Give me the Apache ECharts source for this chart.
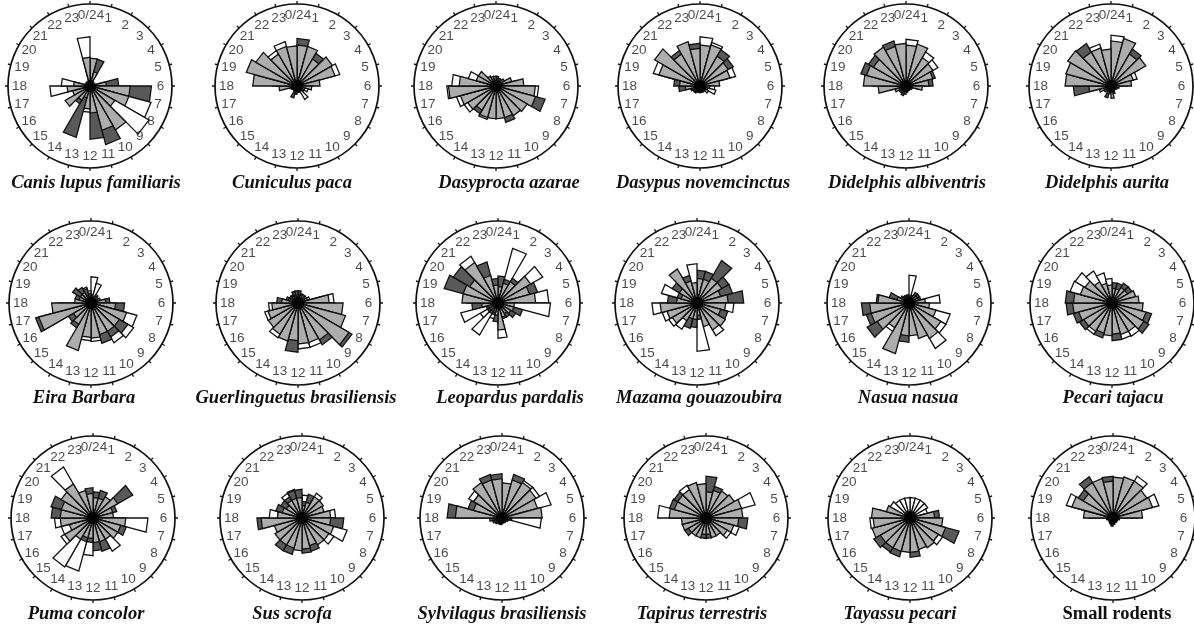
<!DOCTYPE html>
<html>
<head>
<meta charset="utf-8">
<script src="https://cdn.jsdelivr.net/npm/echarts@6/dist/echarts.min.js"></script>
<style>
  html, body { margin: 0; padding: 0; background: #ffffff; }
  #chart { width: 1194px; height: 627px; }
</style>
</head>
<body>
<div id="chart"></div>
<script>
// Hour labels around each clock face (bin i covers hour i to i+1)
const hourLabels = ['0/24','1','2','3','4','5','6','7','8','9','10','11','12',
                    '13','14','15','16','17','18','19','20','21','22','23'];

const speciesNames = [
  'Canis lupus familiaris', 'Cuniculus paca', 'Dasyprocta azarae',
  'Dasypus novemcinctus', 'Didelphis albiventris', 'Didelphis aurita',
  'Eira Barbara', 'Guerlinguetus brasiliensis', 'Leopardus pardalis',
  'Mazama gouazoubira', 'Nasua nasua', 'Pecari tajacu',
  'Puma concolor', 'Sus scrofa', 'Sylvilagus brasiliensis',
  'Tapirus terrestris', 'Tayassu pecari', 'Small rodents'
];

// Per-hour activity, each entry [dark, light, white], radius in % of the clock face
const canis = [[28,34,0],[34,18,0],[5,4,0],[4,3,0],[4,3,0],[35,20,0],[75,49,30],[30,49,77],
  [20,35,83],[30,62,0],[74,56,0],[65,33,0],[20,28,32],[65,15,0],[25,20,0],[20,35,0],
  [15,22,0],[20,28,49],[15,20,35],[4,3,0],[3,3,0],[3,4,0],[4,5,0],[20,35,60]];
const cuniculus = [[58,50,0],[40,50,35],[46,38,0],[42,50,0],[30,48,54],[10,28,20],[8,18,12],[5,10,14],
  [5,8,10],[4,6,19],[5,5,8],[6,6,8],[10,5,6],[15,6,5],[6,4,5],[5,4,5],
  [5,8,6],[8,22,10],[30,54,25],[40,64,30],[35,58,30],[30,45,50],[35,50,56],[30,49,40]];
const dasyprocta = [[10,12,0],[8,10,0],[8,10,0],[10,12,0],[15,20,0],[25,34,0],[40,48,52],[62,50,0],
  [40,44,0],[35,42,0],[46,40,0],[35,40,0],[35,40,0],[30,40,42],[39,34,0],[30,40,45],
  [30,45,50],[40,58,60],[30,45,54],[20,25,35],[15,25,0],[10,14,0],[8,12,0],[10,12,0]];
const dasypus = [[40,50,60],[40,52,55],[51,42,0],[47,40,0],[35,38,45],[15,24,0],[10,12,18],[8,10,20],
  [6,8,12],[5,6,8],[5,6,8],[6,6,8],[8,6,6],[8,6,6],[10,8,6],[10,8,5],
  [12,10,5],[26,18,0],[32,25,0],[40,52,59],[50,64,0],[50,45,0],[40,56,0],[52,46,0]];
const didelphisAlbiventris = [[40,50,57],[40,53,0],[30,40,48],[30,38,45],[37,34,0],[33,28,0],[15,20,0],[6,8,5],
  [5,6,5],[5,6,5],[5,6,5],[6,8,5],[8,10,5],[12,8,10],[8,10,6],[8,10,6],
  [10,14,6],[20,34,0],[40,52,0],[57,50,0],[53,46,0],[40,55,0],[57,50,0],[40,52,0]];
const didelphisAurita = [[40,55,62],[45,60,0],[52,45,0],[40,49,0],[25,28,33],[20,25,0],[8,10,6],[6,8,5],
  [5,6,5],[5,6,5],[6,8,10],[10,15,8],[6,8,5],[15,10,8],[6,8,5],[8,10,5],
  [10,15,5],[46,27,0],[40,56,0],[40,57,0],[45,61,0],[60,48,0],[40,48,53],[35,45,0]];
const eira = [[10,8,32],[8,6,25],[8,10,12],[8,10,6],[10,12,6],[23,18,0],[41,30,0],[40,45,58],
  [52,40,60],[48,40,56],[51,40,0],[40,43,47],[35,42,46],[30,60,0],[35,30,0],[32,25,0],
  [70,66,0],[40,48,0],[15,20,0],[20,15,0],[26,15,0],[22,15,0],[18,10,20],[12,8,15]];
const guerlinguetus = [[15,10,0],[12,10,0],[10,12,0],[8,10,12],[10,12,15],[30,38,44],[45,55,0],[50,60,0],
  [76,72,0],[59,52,0],[45,50,56],[45,50,56],[60,46,0],[40,48,0],[40,44,49],[35,42,0],
  [35,38,42],[30,32,36],[26,20,0],[15,12,10],[12,10,10],[12,10,8],[15,10,8],[15,8,8]];
const leopardus = [[33,20,0],[30,25,69],[35,30,0],[40,46,63],[50,40,0],[40,46,62],[15,20,64],[31,20,0],
  [25,18,0],[20,15,0],[20,18,0],[25,33,43],[23,15,0],[15,12,20],[15,12,45],[15,12,25],
  [15,12,47],[32,20,0],[38,44,0],[68,44,0],[63,40,0],[50,57,66],[52,35,0],[30,22,0]];
const mazama = [[40,30,0],[40,30,0],[60,35,0],[45,35,0],[45,30,0],[57,38,0],[30,35,45],[39,30,0],
  [30,40,0],[30,38,46],[25,30,0],[20,15,59],[30,20,0],[32,20,30],[20,25,37],[25,35,40],
  [25,38,44],[30,45,55],[36,25,0],[25,20,45],[35,25,0],[40,48,0],[35,28,0],[20,25,48]];
const nasua = [[8,6,34],[10,8,0],[15,12,0],[15,12,0],[15,12,0],[15,20,38],[20,25,0],[30,34,52],
  [40,45,52],[40,50,64],[35,45,0],[30,40,0],[48,40,0],[40,64,0],[30,35,40],[59,45,0],
  [54,48,0],[58,48,0],[40,38,0],[25,15,0],[12,10,0],[10,8,0],[10,8,0],[10,8,0]];
const pecariTajacu = [[25,18,0],[25,18,0],[28,22,0],[28,22,0],[22,30,0],[25,33,0],[30,38,0],[50,43,0],
  [52,45,0],[38,40,47],[38,40,46],[46,38,0],[35,40,0],[44,38,0],[38,40,44],[46,40,0],
  [49,42,0],[56,48,0],[57,47,0],[35,40,53],[30,38,52],[25,30,45],[20,25,38],[20,22,30]];
const puma = [[32,25,0],[35,25,0],[25,30,0],[56,35,0],[30,25,0],[20,25,0],[30,40,67],[42,35,0],
  [30,35,0],[30,30,47],[42,30,0],[40,30,0],[30,25,46],[30,25,67],[25,30,69],[30,40,45],
  [25,30,40],[30,40,47],[51,40,0],[53,40,0],[35,45,0],[30,48,72],[30,35,0],[37,30,0]];
const sus = [[20,15,28],[30,20,0],[25,30,35],[25,30,0],[20,28,0],[30,35,41],[51,35,0],[35,40,57],
  [30,38,45],[30,38,0],[42,35,0],[43,38,0],[35,40,0],[46,38,0],[46,38,0],[30,38,0],
  [30,35,0],[55,50,0],[30,30,40],[33,25,0],[30,22,0],[30,25,35],[35,25,36],[35,25,0]];
const sylvilagus = [[40,43,0],[55,48,0],[40,50,53],[40,48,53],[35,45,62],[40,49,0],[12,10,48],[6,5,8],
  [5,4,6],[5,4,5],[5,4,5],[6,5,5],[8,6,5],[8,6,5],[8,6,5],[10,8,5],
  [12,8,6],[15,10,6],[67,57,0],[43,36,0],[40,40,47],[45,50,0],[55,48,0],[54,48,0]];
const tapirus = [[51,32,0],[40,35,0],[30,38,0],[30,40,0],[35,45,62],[40,45,0],[51,40,0],[30,35,42],
  [25,30,35],[20,25,0],[20,25,0],[25,20,0],[25,20,0],[20,25,0],[20,25,0],[30,25,0],
  [25,30,0],[25,30,0],[40,45,59],[46,40,0],[45,40,0],[40,40,46],[40,45,0],[38,42,0]];
const tayassu = [[5,8,25],[5,8,25],[5,8,25],[5,8,25],[5,8,22],[36,30,0],[35,40,0],[62,45,0],
  [40,40,46],[38,42,0],[35,40,0],[48,42,0],[38,42,0],[49,42,0],[48,42,0],[51,42,0],
  [40,48,0],[40,45,49],[40,47,0],[25,30,0],[5,8,28],[5,8,25],[5,8,25],[5,8,25]];
const smallRodents = [[45,50,0],[40,52,0],[40,52,59],[40,48,0],[40,50,58],[30,36,0],[6,5,8],[5,4,6],
  [5,4,5],[5,4,5],[6,5,5],[8,6,6],[10,8,6],[8,6,6],[6,5,5],[5,4,5],
  [5,4,5],[6,8,5],[30,36,0],[40,52,59],[49,42,0],[58,50,0],[40,50,0],[51,45,0]];

const panelData = [canis, cuniculus, dasyprocta, dasypus, didelphisAlbiventris, didelphisAurita,
  eira, guerlinguetus, leopardus, mazama, nasua, pecariTajacu,
  puma, sus, sylvilagus, tapirus, tayassu, smallRodents];

// Layout of the 6 x 3 grid of clock faces and their captions
const colX = [
  [90, 297, 496, 700, 906, 1111],
  [91, 298, 498, 697, 909, 1112],
  [93, 302, 502, 706, 910, 1113]
];
const rowY = [86, 303, 518];
const titleX = [
  [96, 292, 509, 703, 907, 1107],
  [84, 296, 510, 699, 908, 1113],
  [86, 292, 502, 702, 900, 1117]
];
const titleY = [183, 398, 614];
const faceRadius = 82;

const colors = { dark: '#595959', light: '#adadad', white: '#ffffff' };

function renderRose(params, api) {
  const h = api.value(0);
  const dark = api.value(1), light = api.value(2), white = api.value(3);
  const c = api.coord([0, h]);
  // white sits behind, dark in the middle, light on top
  const layers = [[white, colors.white], [dark, colors.dark], [light, colors.light]];
  const children = [];
  layers.forEach(function (ly) {
    const v = ly[0];
    if (!(v > 0)) return;
    const p1 = api.coord([v, h]);
    const p2 = api.coord([v, h + 1]);
    children.push({
      type: 'polygon',
      shape: { points: [c, p1, p2] },
      style: { fill: ly[1], stroke: '#111', lineWidth: 1.3 }
    });
  });
  return { type: 'group', children: children };
}

const polar = [], angleAxis = [], radiusAxis = [], series = [], graphic = [];

panelData.forEach(function (rows, k) {
  const r = Math.floor(k / 6), cIdx = k % 6;
  const cx = colX[r][cIdx], cy = rowY[r];
  polar.push({ center: [cx, cy], radius: faceRadius });
  angleAxis.push({
    polarIndex: k, type: 'value', min: 0, max: 24, interval: 1,
    startAngle: 90, clockwise: true,
    axisLine: { show: true, lineStyle: { color: '#111', width: 1.7 } },
    axisTick: { show: true, length: 3, lineStyle: { color: '#111', width: 1.3 } },
    axisLabel: { show: false },
    splitLine: { show: false }
  });
  radiusAxis.push({
    polarIndex: k, type: 'value', min: 0, max: 100,
    axisLine: { show: false }, axisTick: { show: false },
    axisLabel: { show: false }, splitLine: { show: false }
  });
  series.push({
    type: 'custom', coordinateSystem: 'polar', polarIndex: k,
    encode: { angle: 0, radius: 1 },
    renderItem: renderRose,
    silent: true,
    data: rows.map(function (v, i) { return [i, v[0], v[1], v[2]]; })
  });
  // solid hub where the wedges meet
  series.push({
    type: 'scatter', coordinateSystem: 'polar', polarIndex: k,
    symbol: 'circle', symbolSize: 12, silent: true, z: 5,
    itemStyle: { color: '#000' },
    data: [[0, 0]]
  });
  series.push({
    type: 'scatter', coordinateSystem: 'polar', polarIndex: k,
    symbolSize: 1, itemStyle: { color: 'rgba(0,0,0,0)' }, silent: true,
    data: hourLabels.map(function (t, i) {
      return i === 0 ? { value: [86, i], label: { offset: [1, 0] } } : [86, i];
    }),
    label: {
      show: true, position: 'inside',
      formatter: function (p) { return hourLabels[p.dataIndex]; },
      fontFamily: 'Liberation Sans, Arial, sans-serif', fontSize: 13.5, color: '#1a1a1a'
    }
  });
  const isItalic = speciesNames[k] !== 'Small rodents';
  graphic.push({
    type: 'text', x: titleX[r][cIdx], y: titleY[r], silent: true,
    style: {
      text: speciesNames[k], align: 'center', verticalAlign: 'middle',
      fontFamily: 'Liberation Serif, Times New Roman, serif',
      fontWeight: 'bold', fontStyle: isItalic ? 'italic' : 'normal',
      fontSize: 18.5, fill: '#111'
    }
  });
});

const chart = echarts.init(document.getElementById('chart'), null, { renderer: 'canvas' });
chart.setOption({
  backgroundColor: '#ffffff',
  animation: false,
  polar: polar,
  angleAxis: angleAxis,
  radiusAxis: radiusAxis,
  series: series,
  graphic: graphic
});
</script>
</body>
</html>
